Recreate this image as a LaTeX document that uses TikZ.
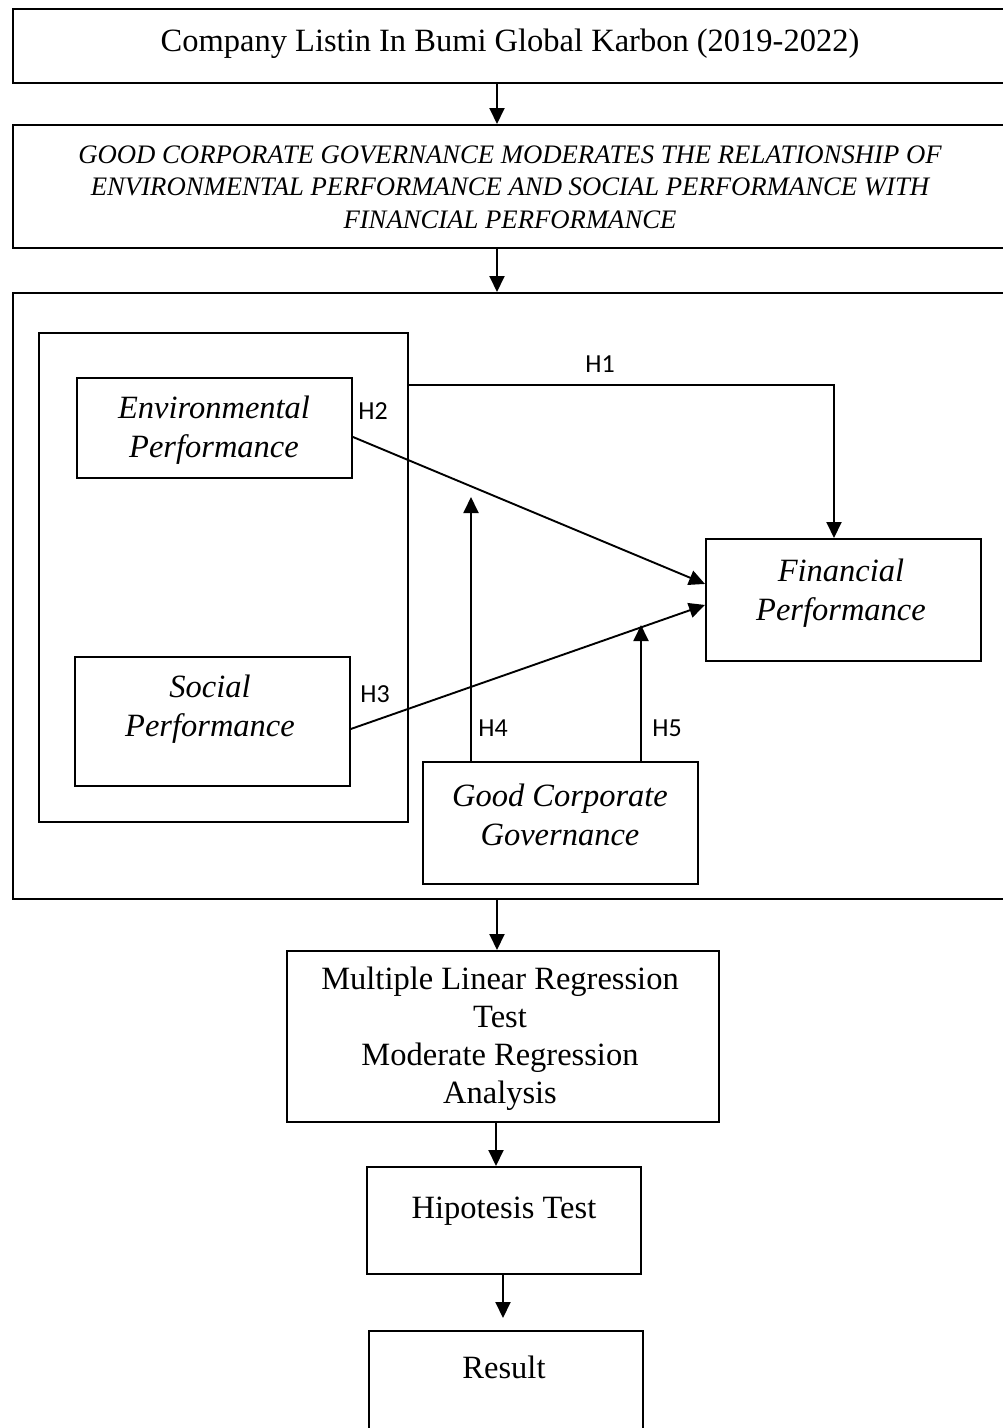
\documentclass[tikz,border=0pt]{standalone}
\usepackage{fontspec}
\setmainfont{Liberation Serif}
\newfontfamily\labfont{Carlito}
\usetikzlibrary{arrows.meta,calc}
\begin{document}
\begin{tikzpicture}[x=1pt,y=-1pt,
  box/.style={draw, line width=1.9pt, rectangle, inner sep=0pt, anchor=north west},
  arr/.style={line width=1.9pt, -{Triangle[length=16pt,width=15pt]}},
  txt/.style={inner sep=0pt, align=center, font=\fontsize{32.5}{38}\selectfont},
  itxt/.style={inner sep=0pt, align=center, font=\fontsize{32.5}{39}\selectfont\itshape},
  ctxt/.style={inner sep=0pt, align=center, font=\fontsize{26.7}{32.5}\selectfont\itshape},
  hlab/.style={inner sep=0pt, anchor=base, font=\labfont\fontsize{26}{30}\selectfont}]
\useasboundingbox (0,0) rectangle (1003,1428);
\begin{scope}
\clip (0,0) rectangle (1003,1428);
% top boxes
\node[box, minimum width=1010pt, minimum height=74pt] (b1) at (12,8) {};
\node[box, minimum width=1010pt, minimum height=123pt] (b2) at (12,124) {};
\node[box, minimum width=1010pt, minimum height=606pt] (b3) at (12,292) {};
\node[txt, anchor=base] (b1t) at (510,51) {Company Listin In Bumi Global Karbon (2019-2022)};
\node[ctxt] (b2t) at (510,187) {GOOD CORPORATE GOVERNANCE MODERATES THE RELATIONSHIP OF\\ENVIRONMENTAL PERFORMANCE AND SOCIAL PERFORMANCE WITH\\FINANCIAL PERFORMANCE};
\coordinate (ax) at (497,0);
\draw[arr] (b1.south -| ax) -- (b2.north -| ax);
\draw[arr] (b2.south -| ax) -- (b3.north -| ax);
% inner model
\node[box, minimum width=369pt, minimum height=489pt] (inner) at (38,332) {};
\node[box, minimum width=275pt, minimum height=100pt] (env) at (76,377) {};
\node[itxt] (envt) at (214,430) {Environmental\\Performance};
\node[box, minimum width=275pt, minimum height=129pt] (soc) at (74,656) {};
\node[itxt] (soct) at (210,709) {Social\\Performance};
\node[box, minimum width=275pt, minimum height=122pt] (fin) at (705,538) {};
\node[itxt] (fint) at (841,593) {Financial\\Performance};
\node[box, minimum width=275pt, minimum height=122pt] (gcg) at (422,761) {};
\node[itxt] (gcgt) at (560,815) {Good Corporate\\Governance};
% hypotheses
\draw[arr] ($(inner.north east)+(0,53)$) -| ($(fin.north west)+(129,0)$);
\draw[arr] ($(env.east)+(0,9)$) -- ($(fin.west)+(0,-16)$);
\draw[arr] ($(soc.east)+(0,7.5)$) -- ($(fin.west)+(0,5)$);
\coordinate (h4end) at (471,497);
\coordinate (h5end) at (641,625);
\draw[arr] ($(gcg.north west)+(49,0)$) -- (h4end);
\draw[arr] ($(gcg.north west)+(219,0)$) -- (h5end);
\node[hlab] (h1) at (600,372) {H1};
\node[hlab] (h2) at (373,419) {H2};
\node[hlab] (h3) at (375,702) {H3};
\node[hlab] (h4) at (493,736) {H4};
\node[hlab] (h5) at (667,736) {H5};
% lower flow
\node[box, minimum width=432pt, minimum height=171pt] (mlr) at (286,950) {};
\node[txt] (mlrt) at (500,1039) {Multiple Linear Regression\\Test\\Moderate Regression\\Analysis};
\node[box, minimum width=274pt, minimum height=107pt] (hyp) at (366,1166) {};
\node[txt, anchor=base] (hypt) at (504,1218) {Hipotesis Test};
\node[box, minimum width=274pt, minimum height=140pt] (res) at (368,1330) {};
\node[txt, anchor=base] (rest) at (504,1378) {Result};
\draw[arr] (b3.south -| ax) -- (mlr.north -| ax);
\coordinate (bx) at (496,0);
\draw[arr] (mlr.south -| bx) -- (hyp.north -| bx);
\coordinate (cx) at (503,0);
\coordinate (rtip) at (503,1318);
\draw[arr] (hyp.south -| cx) -- (rtip);
\end{scope}
\end{tikzpicture}
\end{document}
